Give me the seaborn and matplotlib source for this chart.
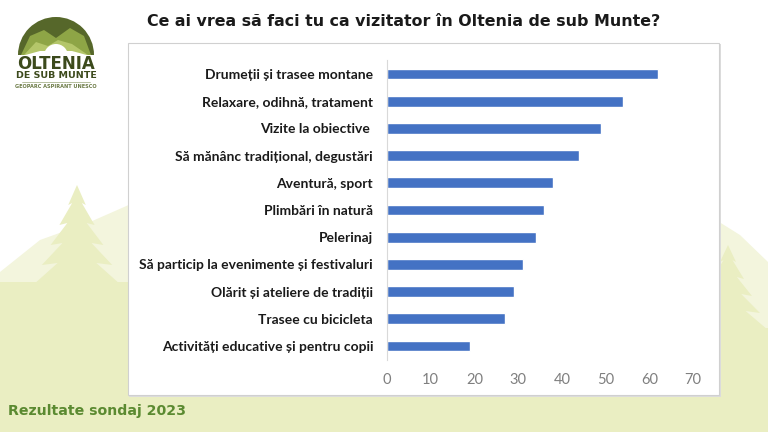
import matplotlib
matplotlib.use("Agg")
import matplotlib.pyplot as plt
import matplotlib.patches as mpatches
import pandas as pd
import seaborn as sns

TITLE = "Ce ai vrea să faci tu ca vizitator în Oltenia de sub Munte?"
FOOTER = "Rezultate sondaj 2023"

activities = [
    "Drumeții și trasee montane",
    "Relaxare, odihnă, tratament",
    "Vizite la obiective ",
    "Să mănânc tradițional, degustări",
    "Aventură, sport",
    "Plimbări în natură",
    "Pelerinaj",
    "Să particip la evenimente și festivaluri",
    "Olărit și ateliere de tradiții",
    "Trasee cu bicicleta",
    "Activități educative și pentru copii",
]
answers = [62, 54, 49, 44, 38, 36, 34, 31, 29, 27, 19]
x_ticks = [0, 10, 20, 30, 40, 50, 60, 70]

BAR = "#4472C4"
PALE = "#eaeec2"
PALER = "#f3f5dd"
OLIVE = "#56672a"

df = pd.DataFrame({"activity": activities, "answers": answers})

sns.set_theme(style="white")
plt.rcParams["font.family"] = ["DejaVu Sans"]

fig = plt.figure(figsize=(7.68, 4.32), dpi=100)
fig.patch.set_facecolor("white")

# background decoration (slide template), pixel coordinates
bg = fig.add_axes([0, 0, 1, 1], zorder=-5)
bg.set_xlim(0, 768)
bg.set_ylim(432, 0)
bg.axis("off")


def pine(cx, top, base, half):
    pts = [(cx, top)]
    n = 5
    for i in range(1, n + 1):
        y = top + (base - top) * i / n
        w = half * i / n
        pts.append((cx + w, y))
        if i < n:
            pts.append((cx + w * 0.55, y - 2))
    pts.append((cx - half, base))
    for i in range(n - 1, 0, -1):
        y = top + (base - top) * i / n
        w = half * i / n
        pts.append((cx - w * 0.55, y - 2))
        pts.append((cx - w, y))
    return pts


bg.add_patch(mpatches.Polygon([(0, 272), (40, 240), (90, 222), (140, 200), (140, 432), (0, 432)],
                              closed=True, color=PALER, lw=0))
bg.add_patch(mpatches.Polygon(pine(77, 185, 285, 44), closed=True, color=PALE, lw=0))
bg.add_patch(mpatches.Rectangle((0, 282), 140, 150, color=PALE, lw=0))
bg.add_patch(mpatches.Polygon([(700, 210), (740, 235), (768, 262), (768, 432), (700, 432)],
                              closed=True, color=PALER, lw=0))
bg.add_patch(mpatches.Polygon(pine(728, 245, 330, 40), closed=True, color=PALE, lw=0))
bg.add_patch(mpatches.Rectangle((700, 328), 68, 110, color=PALE, lw=0))
bg.add_patch(mpatches.Rectangle((0, 396), 768, 40, color=PALE, lw=0))

# white chart panel
bg.add_patch(mpatches.Rectangle((129, 44), 592, 353, facecolor="#dcdcdc", lw=0))
bg.add_patch(mpatches.Rectangle((128, 43), 591, 352, facecolor="white",
                                edgecolor="#d0d0d0", lw=0.8))

# logo
bg.add_patch(mpatches.Wedge((56, 55), 38, 180, 360, color=OLIVE, lw=0))
bg.add_patch(mpatches.Polygon([(21, 55), (30, 36), (44, 30), (56, 38), (70, 28), (84, 36), (91, 55)],
                              closed=True, color="#8ea546", lw=0))
bg.add_patch(mpatches.Polygon([(24, 55), (36, 42), (48, 46), (58, 40), (72, 44), (88, 55)],
                              closed=True, color="#b4c66a", lw=0))
bg.add_patch(mpatches.Wedge((56, 56), 12, 180, 360, color="white", lw=0))
bg.add_patch(mpatches.Polygon([(18, 57), (40, 51), (72, 51), (94, 57)], closed=True,
                              color="white", lw=0))
bg.text(56, 64, "OLTENIA", ha="center", va="center", fontsize=12,
        fontweight="bold", color="#3c4a1c")
bg.text(56, 76, "DE SUB MUNTE", ha="center", va="center", fontsize=6.8,
        fontweight="bold", color="#3c4a1c")
bg.plot([22, 90], [81.5, 81.5], color="#9aa77a", lw=0.5)
bg.text(56, 86.5, "GEOPARC ASPIRANT UNESCO", ha="center", va="center", fontsize=3.6,
        fontweight="bold", color="#6b7a45")

fig.text(404 / 768, 1 - 22 / 432, TITLE, ha="center", va="center", fontsize=11.4,
         fontweight="bold", color="#1a1a1a")
fig.text(8 / 768, 1 - 411 / 432, FOOTER, ha="left", va="center", fontsize=10.2,
         fontweight="bold", color="#5b8a31")

# bar chart
ax = fig.add_axes([387 / 768, 1 - 359.6 / 432, 306 / 768, 299.2 / 432])
ax.patch.set_alpha(0)
sns.barplot(data=df, x="answers", y="activity", orient="h", color=BAR,
            width=0.4, saturation=1, ax=ax)
ax.set_xlim(0, 70)
ax.set_ylim(len(activities) - 0.5, -0.5)
ax.set_xticks(x_ticks)
ax.set_xlabel("")
ax.set_ylabel("")
for side in ["top", "right", "bottom"]:
    ax.spines[side].set_visible(False)
ax.spines["left"].set_color("#d9d9d9")
ax.spines["left"].set_linewidth(0.8)
ax.tick_params(axis="x", length=0, pad=10, labelsize=10.5, labelcolor="#7f7f7f")
ax.tick_params(axis="y", length=0, pad=10)
for lab in ax.get_xticklabels():
    lab.set_family("Lato")
for lab in ax.get_yticklabels():
    lab.set_family("Lato")
    lab.set_fontweight("bold")
    lab.set_fontsize(10)
    lab.set_color("#1a1a1a")

fig.savefig("out.png", dpi=100)
